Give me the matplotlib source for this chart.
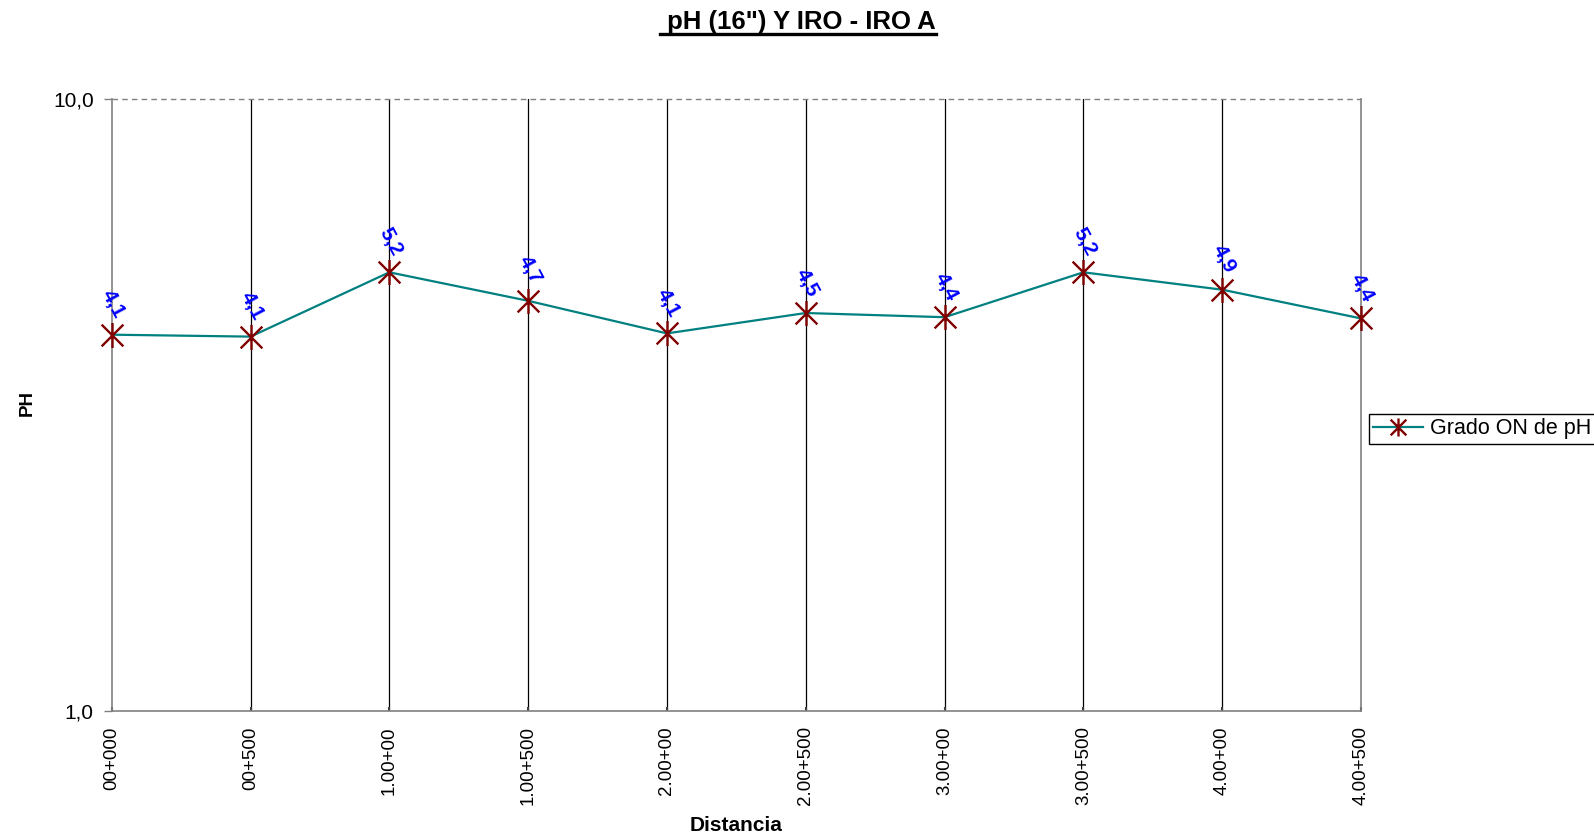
import matplotlib
matplotlib.use("Agg")
import matplotlib.pyplot as plt
from matplotlib.path import Path
from matplotlib.ticker import FixedLocator, NullLocator, FixedFormatter
from matplotlib.lines import Line2D

plt.rcParams['font.family'] = ['Liberation Sans', 'DejaVu Sans']

# Data
distancias = ["00+000", "00+500", "1.00+00", "1.00+500", "2.00+00",
              "2.00+500", "3.00+00", "3.00+500", "4.00+00", "4.00+500"]
ph_values = [4.12, 4.09, 5.21, 4.68, 4.14, 4.47, 4.40, 5.21, 4.88, 4.38]
y_ticks = [1.0, 10.0]
y_tick_labels = ["1,0", "10,0"]
series_name = "Grado ON de pH"

W, H = 1594, 839
fig = plt.figure(figsize=(W / 100, H / 100), dpi=100)
ax = fig.add_axes([111.7 / W, 1 - 711 / H, (1361 - 111.7) / W, (711 - 99) / H])

# Asterisk marker: x with a vertical bar
star = Path([(-1, -1), (1, 1), (-1, 1), (1, -1), (0, -1.15), (0, 1.15)],
            [Path.MOVETO, Path.LINETO, Path.MOVETO, Path.LINETO, Path.MOVETO, Path.LINETO])

x = list(range(len(distancias)))
ax.plot(x, ph_values, color="#008080", lw=1.6, zorder=3, clip_on=False)
ax.plot(x, ph_values, ls="none", marker=star, markersize=18, mec="#800000",
        mfc="none", mew=1.7, zorder=4, clip_on=False)

ax.set_yscale("log")
ax.set_ylim(1, 10)
ax.set_xlim(0, len(distancias) - 1)
ax.yaxis.set_major_locator(FixedLocator(y_ticks))
ax.yaxis.set_major_formatter(FixedFormatter(y_tick_labels))
ax.yaxis.set_minor_locator(NullLocator())
ax.set_xticks(x)
ax.set_xticklabels(distancias, rotation=90, va="top", ha="center")

# Vertical grid lines at every station
for xi in x[1:-1]:
    ax.axvline(xi, color="black", lw=0.9, zorder=1)
# Dashed gridline at the top value
ax.axhline(10, color="#808080", lw=1.0, ls=(0, (4, 3)), zorder=1, clip_on=False)

for side in ["left", "bottom", "right"]:
    ax.spines[side].set_color("#808080")
    ax.spines[side].set_linewidth(1.2)
ax.spines["top"].set_visible(False)

ax.tick_params(axis="y", direction="out", length=6, width=1, color="#808080",
               labelsize=15, pad=7)
ax.tick_params(axis="x", direction="in", length=3, width=1.5, color="#404040",
               labelsize=13.5, pad=11)

# Value labels
for xi, v in zip(x, ph_values):
    ax.annotate(f"{v:.1f}".replace(".", ","), (xi, v), xytext=(1, 22),
                textcoords="offset points", ha="center", va="center",
                rotation=-62, color="blue", fontsize=15, fontweight="bold",
                zorder=5, annotation_clip=False)

# Titles and axis labels
title = fig.text(0.5006, 1 - 22.5 / H, " pH (16\") Y IRO - IRO A", ha="center", va="center",
                 fontsize=18.5, fontweight="bold")
fig.text(27.5 / W, 1 - 403 / H, "PH", rotation=90, ha="center", va="center",
         fontsize=13.5, fontweight="bold")
fig.text(736 / W, 1 - 825.5 / H, "Distancia", ha="center", va="center",
         fontsize=15, fontweight="bold")

# Underline the title
fig.canvas.draw()
bb = title.get_window_extent(fig.canvas.get_renderer())
uy = (bb.y0 + 1) / H
fig.add_artist(Line2D([bb.x0 / W, bb.x1 / W], [uy, uy], color="black", lw=2.4,
                      transform=fig.transFigure))

# Legend
handle = Line2D([], [], color="#008080", lw=1.6, marker=star, markersize=13,
                mec="#800000", mew=1.7)
fig.legend([handle], [series_name], loc="upper left",
           bbox_to_anchor=(1369 / W, 1 - 414 / H), fontsize=15.5,
           frameon=True, fancybox=False, edgecolor="black", framealpha=1,
           handlelength=2.3, handletextpad=0.35, borderpad=0.2,
           borderaxespad=0)

fig.savefig("out.png", dpi=100)
